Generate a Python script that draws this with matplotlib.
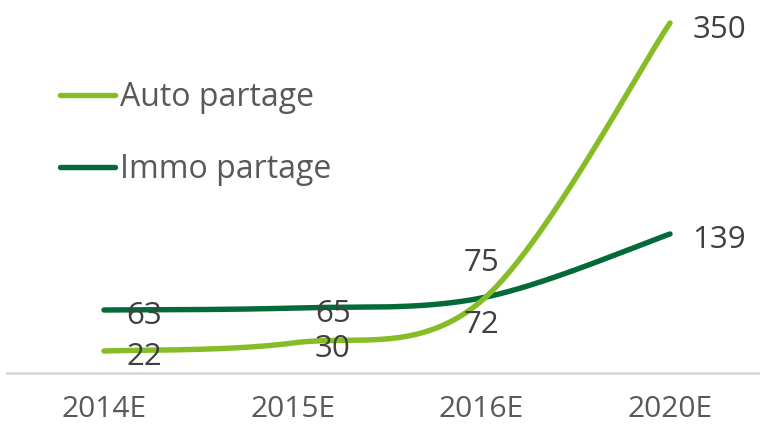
import numpy as np
import matplotlib
matplotlib.use('Agg')
import matplotlib.pyplot as plt

# données
annees = ['2014E', '2015E', '2016E', '2020E']
auto_partage = [22, 30, 72, 350]
immo_partage = [63, 65, 75, 139]

vert_clair = '#86BC25'
vert_fonce = '#046A38'
gris_texte = '#404040'

plt.rcParams['font.family'] = ['Open Sans', 'DejaVu Sans']


# courbe lissée (Catmull-Rom, comme le lissage d'Excel)
def lisser(xs, ys, n=60):
    pts = np.column_stack([xs, ys]).astype(float)
    pts = np.vstack([pts[0], pts, pts[-1]])
    out = []
    for i in range(1, len(pts) - 2):
        p0, p1, p2, p3 = pts[i - 1], pts[i], pts[i + 1], pts[i + 2]
        c1 = p1 + (p2 - p0) / 6
        c2 = p2 - (p3 - p1) / 6
        t = np.linspace(0, 1, n)[:, None]
        seg = ((1 - t) ** 3) * p1 + 3 * ((1 - t) ** 2) * t * c1 + 3 * (1 - t) * t ** 2 * c2 + t ** 3 * p2
        out.append(seg if i == 1 else seg[1:])
    out = np.vstack(out)
    return out[:, 0], out[:, 1]


fig = plt.figure(figsize=(7.6, 4.33), dpi=100)
ax = fig.add_axes([7 / 760, 60 / 433, 753 / 760, 373 / 433])

x = np.arange(len(annees))
lw = 3.9
xa, ya = lisser(x, auto_partage)
xi, yi = lisser(x, immo_partage)
ax.plot(xi, yi, color=vert_fonce, lw=lw, solid_capstyle='round', label='Immo partage')
ax.plot(xa, ya, color=vert_clair, lw=lw, solid_capstyle='round', label='Auto partage')

px = 188.67  # pixels par catégorie
ax.set_xlim(-(104 - 7) / px, (760 - 104) / px)
ax.set_ylim(0, 373)

fs = 22.5
# étiquettes de valeurs (décalages en pixels)
decal_auto = [(40, -6), (40, -6), (0, -24), (49, -7)]
decal_immo = [(40, -6), (40, -6), (0, 35), (49, -6)]
for i, v in enumerate(auto_partage):
    ax.annotate(str(v), (i, v), xytext=decal_auto[i], textcoords='offset pixels',
                ha='center', va='center', fontsize=fs, color=gris_texte)
for i, v in enumerate(immo_partage):
    ax.annotate(str(v), (i, v), xytext=decal_immo[i], textcoords='offset pixels',
                ha='center', va='center', fontsize=fs, color=gris_texte)

ax.set_xticks(x)
ax.set_xticklabels(annees, fontsize=21.5, color='#595959')
ax.tick_params(axis='x', length=0, pad=16)
ax.set_yticks([])
for s in ['top', 'left', 'right']:
    ax.spines[s].set_visible(False)
ax.spines['bottom'].set_color('#d9d9d9')
ax.spines['bottom'].set_linewidth(2)

# légende
h, l = ax.get_legend_handles_labels()
leg = ax.legend(h[::-1], l[::-1], loc='upper left', bbox_to_anchor=(53 / 753, 1 - 81 / 373),
                frameon=False, fontsize=23, handlelength=1.72, handletextpad=0.16,
                labelspacing=1.22, borderpad=0, borderaxespad=0)
for t in leg.get_texts():
    t.set_color('#595959')

fig.savefig('out.png', dpi=100)
